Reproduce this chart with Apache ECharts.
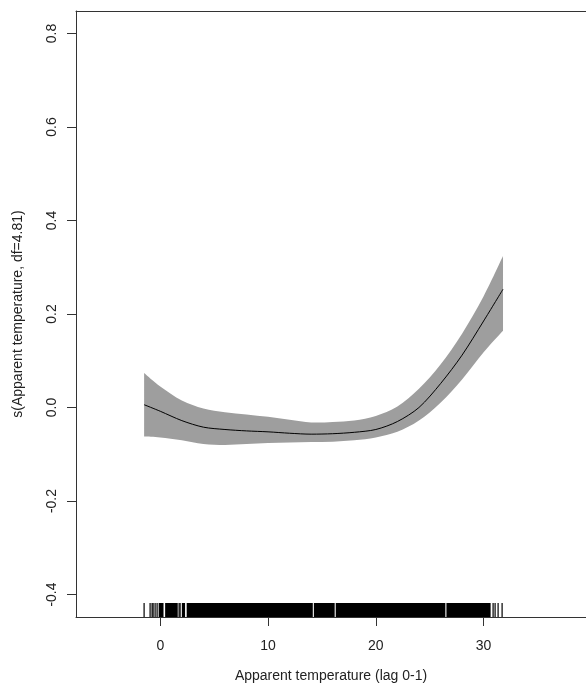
<!DOCTYPE html>
<html>
<head>
<meta charset="utf-8">
<script src="https://cdn.jsdelivr.net/npm/echarts@6/dist/echarts.min.js"></script>
<style>
html,body{margin:0;padding:0;background:#fff;}
#c{width:586px;height:688px;}
</style>
</head>
<body>
<div id="c"></div>
<script>
// ---- data ----
var temps = [-1.5, 0, 2, 4, 6, 8, 10, 12, 14, 16, 18, 20, 22, 24, 26, 28, 30, 31.8];
var fit   = [0.006, -0.008, -0.028, -0.042, -0.047, -0.050, -0.052, -0.055, -0.057, -0.056, -0.053, -0.047, -0.030, 0.000, 0.051, 0.112, 0.185, 0.253];
var upper = [0.074, 0.045, 0.015, -0.002, -0.010, -0.015, -0.020, -0.026, -0.032, -0.031, -0.028, -0.018, 0.002, 0.040, 0.092, 0.158, 0.238, 0.324];
var lower = [-0.062, -0.064, -0.070, -0.078, -0.080, -0.078, -0.076, -0.075, -0.074, -0.073, -0.070, -0.064, -0.052, -0.028, 0.010, 0.060, 0.118, 0.164];
// rug: isolated observations and densely observed intervals
var rugTicks = [-1.48, -0.95, -0.8, -0.65, -0.5, -0.35, 1.75, 1.87, 30.86, 31.1, 31.33, 31.75];
var rugRanges = [[-0.15, 0.3], [0.45, 1.62], [2.0, 2.3], [2.45, 14.15], [14.25, 16.18], [16.28, 26.45], [26.55, 30.65]];
var xTicks = [0, 10, 20, 30];
var yTicks = [-0.4, -0.2, 0.0, 0.2, 0.4, 0.6, 0.8];

var xMin = -7.82, xMax = 39.5, yMin = -0.448, yMax = 0.848;
var rugTop = -0.418;

var fitData = temps.map(function (t, i) { return [t, fit[i]]; });

var rugItems = [];
rugTicks.forEach(function (v) { rugItems.push([v, v, 1]); });
rugRanges.forEach(function (r) { rugItems.push([r[0], r[1], 0]); });

// Catmull-Rom smoothed path segments through pixel points (rendering only)
function smoothSegs(p) {
  var s = '';
  for (var i = 0; i < p.length - 1; i++) {
    var p0 = p[Math.max(i - 1, 0)], p1 = p[i], p2 = p[i + 1], p3 = p[Math.min(i + 2, p.length - 1)];
    var c1x = p1[0] + (p2[0] - p0[0]) / 6, c1y = p1[1] + (p2[1] - p0[1]) / 6;
    var c2x = p2[0] - (p3[0] - p1[0]) / 6, c2y = p2[1] - (p3[1] - p1[1]) / 6;
    s += ' C' + c1x + ',' + c1y + ' ' + c2x + ',' + c2y + ' ' + p2[0] + ',' + p2[1];
  }
  return s;
}

var font = 'Liberation Sans, Arial, sans-serif';
var txt = '#222';

var chart = echarts.init(document.getElementById('c'), null, {renderer: 'canvas'});
chart.setOption({
  backgroundColor: '#ffffff',
  animation: false,
  grid: {left: 76, top: 11, right: 0, bottom: 66, containLabel: false},
  xAxis: [{
    type: 'value', min: xMin, max: xMax, position: 'bottom',
    name: 'Apparent temperature (lag 0-1)', nameLocation: 'middle', nameGap: 52,
    nameTextStyle: {fontFamily: font, fontSize: 14, color: txt},
    axisLine: {show: true, onZero: false, lineStyle: {color: '#333', width: 1}},
    axisTick: {show: true, length: 9, lineStyle: {color: '#333'}, customValues: xTicks},
    axisLabel: {show: true, margin: 22, fontFamily: font, fontSize: 14, color: txt, customValues: xTicks,
      formatter: function (v) { return String(v); }},
    splitLine: {show: false}
  }, {
    type: 'value', min: xMin, max: xMax, position: 'top',
    axisLine: {show: true, onZero: false, lineStyle: {color: '#333', width: 1}},
    axisTick: {show: false}, axisLabel: {show: false}, splitLine: {show: false}
  }],
  yAxis: {
    type: 'value', min: yMin, max: yMax,
    name: 's(Apparent temperature, df=4.81)', nameLocation: 'middle', nameGap: 51, nameRotate: 90,
    nameTextStyle: {fontFamily: font, fontSize: 14, color: txt},
    axisLine: {show: true, onZero: false, lineStyle: {color: '#333', width: 1}},
    axisTick: {show: true, length: 9, lineStyle: {color: '#333'}, customValues: yTicks},
    axisLabel: {show: true, rotate: 90, margin: 17, fontFamily: font, fontSize: 14, color: txt, customValues: yTicks,
      formatter: function (v) { return v.toFixed(1); }},
    splitLine: {show: false}
  },
  series: [{
    type: 'custom',
    coordinateSystem: 'cartesian2d',
    data: [[temps[0], upper[0]]],
    silent: true,
    z: 1,
    renderItem: function (params, api) {
      var up = temps.map(function (t, i) { return api.coord([t, upper[i]]); });
      var lo = temps.map(function (t, i) { return api.coord([t, lower[i]]); }).reverse();
      var d = 'M' + up[0][0] + ',' + up[0][1] + smoothSegs(up) +
        ' L' + lo[0][0] + ',' + lo[0][1] + smoothSegs(lo) + ' Z';
      return {type: 'path', shape: {pathData: d}, style: {fill: '#9e9e9e', stroke: null}};
    }
  }, {
    type: 'line',
    data: fitData,
    smooth: 0.3,
    symbol: 'none',
    z: 3,
    lineStyle: {color: '#000', width: 1}
  }, {
    type: 'custom',
    coordinateSystem: 'cartesian2d',
    data: rugItems,
    silent: true,
    z: 4,
    encode: {x: [0, 1], y: []},
    renderItem: function (params, api) {
      var a = api.value(0), b = api.value(1), single = api.value(2);
      var p0 = api.coord([a, rugTop]);
      var p1 = api.coord([b, yMin]);
      var x = p0[0], w = p1[0] - p0[0];
      if (single) { x = Math.round(p0[0]) - 0.5; w = 1.2; }
      return {type: 'rect', shape: {x: x, y: p0[1], width: Math.max(w, 1), height: p1[1] - p0[1]},
        style: {fill: '#000'}};
    }
  }]
});
</script>
</body>
</html>
